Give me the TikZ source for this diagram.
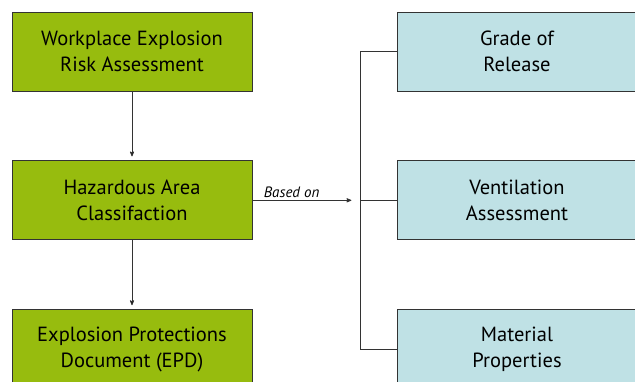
\documentclass[tikz,border=0pt]{standalone}
\usepackage{fontspec}
\setmainfont{PT Sans}
\usetikzlibrary{arrows,positioning}
\definecolor{lime}{HTML}{97BC0E}
\definecolor{paleblue}{HTML}{BFE1E5}
\definecolor{dg}{HTML}{333333}
\tikzset{
    gbox/.style =   {rectangle,
                    fill=lime,
                    draw=dg,
                    text=black,
                    thick,
                    align=center,
                    font=\fontsize{20.5}{26}\selectfont,
                    minimum width=240pt,
                    minimum height=79pt},
    bbox/.style =   {gbox,
                    fill=paleblue},
    link/.style =   {draw=dg,
                    thick},
    >=stealth',
    node distance=69pt}

\begin{document}
\begin{tikzpicture}[x=1pt,y=-1pt]
            \clip (0,0) rectangle (635,381);
            \node[gbox]     (risk)  at (132,51.5)           {Workplace Explosion\\Risk Assessment};
            \node[gbox]     (hac)   [below=of risk]         {Hazardous Area\\Classifaction};
            \node[gbox]     (epd)   [below=of hac]          {Explosion Protections\\Document (EPD)};
            \node[bbox]     (grade) at (517,51.5)           {Grade of\\Release};
            \node[bbox]     (vent)  [below=of grade]        {Ventilation\\Assessment};
            \node[bbox]     (props) [below=of vent]         {Material\\Properties};
            \coordinate     (split) at ([xshift=109pt]hac.east);
            \path [link,->,shorten >=4pt]   (risk) edge (hac)
                                            (hac) edge (epd);
            \draw [link,->,shorten >=10pt]  (hac.east) -- node [above,pos=0.36,inner sep=2pt,font=\fontsize{15}{17}\itshape] {Based on} (split);
            \draw [link]    (grade.west) -- ++(-36,0) |- (props.west);
            \draw [link]    (split) -- (vent.west);
        \end{tikzpicture}
\end{document}
